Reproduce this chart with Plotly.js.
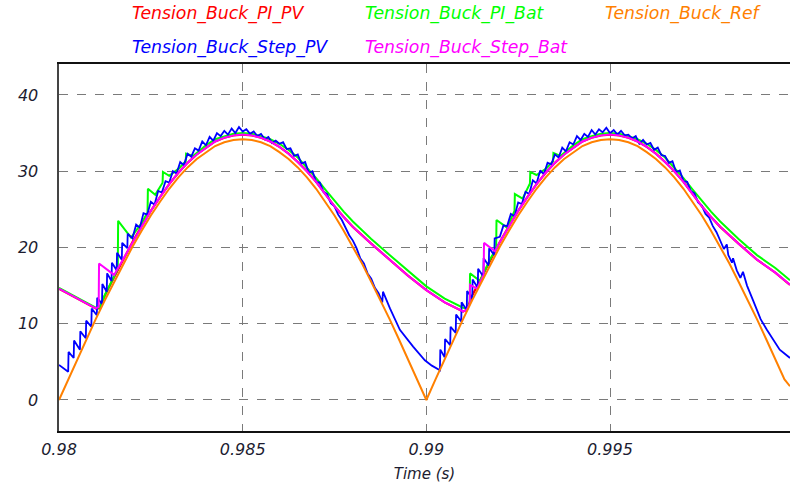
<!DOCTYPE html>
<html>
<head>
<meta charset="utf-8">
<script src="https://cdn.plot.ly/plotly-3.0.1.min.js"></script>
<style>html,body{margin:0;padding:0;background:#fff;}#chart{width:790px;height:485px;}</style>
</head>
<body>
<div id="chart"></div>
<script>
// ---------- data ----------
var seriesNames = ["Tension_Buck_PI_PV", "Tension_Buck_PI_Bat", "Tension_Buck_Ref", "Tension_Buck_Step_PV", "Tension_Buck_Step_Bat"];

var xTickVals = [0.98, 0.985, 0.99, 0.995];
var xTickText = ["0.98", "0.985", "0.99", "0.995"];
var yTickVals = [0, 10, 20, 30, 40];
var yTickText = ["0", "10", "20", "30", "40"];

// Reference voltage: sampled every 0.25 ms from 0.98 s, plus the last visible point
var refStart = 0.98, refStep = 0.00025;
var vRef = [0,2.7,5.4,8.0,10.6,13.1,15.5,17.9,20.1,22.2,24.2,26.0,27.7,29.2,30.5,31.6,32.5,33.3,33.8,34.1,
            34.2,34.1,33.8,33.3,32.5,31.6,30.5,29.2,27.7,26.0,24.2,22.2,20.1,17.9,15.5,13.1,10.6,8.0,5.4,2.7,
            0,2.7,5.4,8.0,10.6,13.1,15.5,17.9,20.1,22.2,24.2,26.0,27.7,29.2,30.5,31.6,32.5,33.3,33.8,34.1,
            34.2,34.1,33.8,33.3,32.5,31.6,30.5,29.2,27.7,26.0,24.2,22.2,20.1,17.9,15.5,13.1,10.6,8.0,5.4,2.7];
var refEndT = 0.9999, refEndV = 1.8;

var tRed = [0.98,0.981,0.9811,0.98125,0.9815,0.98175,0.982,0.98225,0.9825,0.98275,0.983,0.98325,0.9835,0.98375,0.984,0.98425,0.9845,0.98475,0.985,0.98525,0.9855,0.98575,0.986,0.98625,0.9865,0.98675,0.987,0.98725,0.9875,0.98775,0.988,0.9885,0.989,0.9895,0.99,0.9905,0.991,
            0.9911,0.99125,0.9915,0.99175,0.992,0.99225,0.9925,0.99275,0.993,0.99325,0.9935,0.99375,0.994,0.99425,0.9945,0.99475,0.995,0.99525,0.9955,0.99575,0.996,0.99625,0.9965,0.99675,0.997,0.99725,0.9975,0.99775,0.998,0.9985,0.999,0.9995,0.9999];
var vRed = [14.6,12.0,12.0,13.7,16.1,18.5,20.7,22.8,24.8,26.6,28.3,29.8,31.1,32.2,33.1,33.9,34.4,34.7,34.8,34.7,34.4,33.9,33.2,32.3,31.2,30.0,28.6,27.0,25.4,24.0,22.7,20.5,18.4,16.3,14.4,12.8,11.6,
            11.8,13.7,16.1,18.5,20.7,22.8,24.8,26.6,28.3,29.8,31.1,32.2,33.1,33.9,34.4,34.7,34.8,34.7,34.4,33.9,33.2,32.3,31.2,30.0,28.6,27.0,25.4,24.0,22.7,20.5,18.4,16.7,15.1];

var tMag = [0.98,0.981,0.98108,0.98109,0.9815,0.98175,0.982,0.98225,0.9825,0.98275,0.983,0.98325,0.9835,0.98375,0.984,0.98425,0.9845,0.98475,0.985,0.98525,0.9855,0.98575,0.986,0.98625,0.9865,0.98675,0.987,0.98725,0.9875,0.98775,0.988,0.9885,0.989,0.9895,0.99,0.9905,0.991,
            0.9911,0.99118,0.99119,0.99138,0.99156,0.99157,0.99187,0.992,0.99225,0.9925,0.99275,0.993,0.99325,0.9935,0.99375,0.994,0.99425,0.9945,0.99475,0.995,0.99525,0.9955,0.99575,0.996,0.99625,0.9965,0.99675,0.997,0.99725,0.9975,0.99775,0.998,0.9985,0.999,0.9995,0.9999];
var vMag = [14.6,12.0,12.2,17.9,16.4,18.5,20.7,22.8,24.8,26.6,28.3,29.8,31.1,32.2,33.1,33.9,34.4,34.7,34.8,34.7,34.4,33.9,33.2,32.3,31.2,30.0,28.6,27.0,25.4,24.0,22.7,20.5,18.4,16.3,14.4,12.8,11.6,
            11.8,12.6,15.1,14.6,16.4,20.6,19.5,20.7,22.8,24.8,26.6,28.3,29.8,31.1,32.2,33.1,33.9,34.4,34.7,34.8,34.7,34.4,33.9,33.2,32.3,31.2,30.0,28.6,27.0,25.4,24.0,22.7,20.5,18.4,16.7,15.1];

var tGrn = [0.98,0.981,0.9811,0.98125,0.9815,0.9816,0.98161,0.98196,0.98225,0.98241,0.98242,0.98262,0.98282,0.98283,0.983,0.98325,0.98345,0.98346,0.98365,0.984,0.98425,0.9845,0.98475,0.985,0.98525,0.9855,0.98575,0.986,0.98625,0.9865,0.98675,0.987,0.98725,0.9875,0.98775,0.988,0.9885,0.989,0.9895,0.99,0.9905,0.991,
            0.9911,0.99118,0.99119,0.99146,0.99175,0.9919,0.99191,0.9922,0.9924,0.99241,0.99262,0.99282,0.99283,0.993,0.99325,0.99345,0.99346,0.99365,0.994,0.99425,0.9945,0.99475,0.995,0.99525,0.9955,0.99575,0.996,0.99625,0.9965,0.99675,0.997,0.99725,0.9975,0.99775,0.998,0.9985,0.999,0.9995,0.9999];
var vGrn = [14.7,12.1,12.1,13.8,16.2,17.2,23.5,21.3,23.2,24.6,27.7,26.9,28.5,29.9,29.4,30.3,31.3,32.3,32.0,33.4,34.2,34.6,34.9,35.0,34.9,34.6,34.2,33.6,32.8,31.8,30.5,29.1,27.6,26.1,24.7,23.4,21.1,19.0,16.9,14.9,13.3,12.1,
            12.0,12.6,16.6,15.6,18.6,19.8,23.6,22.6,24.8,27.0,26.4,28.4,29.9,29.5,30.3,31.3,32.4,32.0,33.4,34.2,34.6,34.9,35.0,34.9,34.6,34.2,33.6,32.8,31.8,30.5,29.1,27.6,26.1,24.7,23.4,21.1,19.0,17.3,15.7];

var tBlue = [0.98,0.98025,0.98026,0.9804,0.98041,0.98057,0.98058,0.98073,0.98074,0.98088,0.98089,0.98103,0.98104,0.98117,0.98118,0.9813,0.98131,0.98143,0.98144,0.98157,0.98158,0.98171,0.98172,0.98186,0.98187,
  0.9820,0.9821,0.9822,0.9823,0.9824,0.9825,0.9826,0.9827,0.9828,0.9829,0.9830,0.9831,0.9832,0.9833,0.9834,0.9835,0.9836,0.9837,0.9838,0.9839,
  0.9840,0.9841,0.9842,0.9843,0.9844,0.9845,0.9846,0.9847,0.9848,0.9849,0.9850,0.9851,0.9852,0.9853,0.9854,0.9855,0.9856,0.9857,0.9858,0.9859,
  0.9860,0.9861,0.9862,0.9863,0.9864,0.9865,0.9866,0.9867,0.9868,0.9869,0.9870,0.9871,0.9872,0.9873,0.9874,0.9875,0.9876,0.9877,0.9878,0.9879,
  0.9880,0.9881,0.9882,0.9883,0.9884,0.9885,0.9886,0.9887,0.9888,0.98882,0.98901,0.98928,0.98964,0.98996,0.99015,0.99037,
  0.99038,0.9905,0.99051,0.99065,0.99066,0.9908,0.99081,0.99095,0.99096,0.9911,0.99111,0.99125,0.99126,0.9914,0.99141,0.99155,0.99156,0.9917,0.99171,0.99185,0.99186,
  0.9920,0.9921,0.9922,0.9923,0.9924,0.9925,0.9926,0.9927,0.9928,0.9929,0.9930,0.9931,0.9932,0.9933,0.9934,0.9935,0.9936,0.9937,0.9938,0.9939,
  0.9940,0.9941,0.9942,0.9943,0.9944,0.9945,0.9946,0.9947,0.9948,0.9949,0.9950,0.9951,0.9952,0.9953,0.9954,0.9955,0.9956,0.9957,0.9958,0.9959,
  0.9960,0.9961,0.9962,0.9963,0.9964,0.9965,0.9966,0.9967,0.9968,0.9969,0.9970,0.9971,0.9972,0.9973,0.9974,0.9975,0.9976,0.9977,0.9978,0.9979,
  0.9980,0.9981,0.99818,0.99822,0.99832,0.99835,0.99845,0.99855,0.99862,0.99873,0.9989,0.9991,0.99927,0.99945,0.99962,0.9999];
var vBlue = [4.6,3.7,6.3,5.5,7.8,6.6,9.0,8.1,10.4,9.6,12.0,11.1,13.4,12.6,15.2,14.2,16.6,15.6,18.0,17.0,19.3,18.4,20.6,19.9,21.8,
  21.2,23.0,22.6,24.5,24.3,26.0,25.6,27.4,27.2,28.7,28.5,30.0,29.7,31.2,30.8,32.3,31.9,33.0,32.7,33.9,
  33.4,34.5,34.0,35.0,34.6,35.3,34.8,35.6,35.0,35.8,35.2,35.5,34.9,35.2,34.6,34.9,34.2,34.5,33.7,34.0,
  33.6,33.8,32.9,33.0,32.0,32.2,31.0,31.2,29.8,30.0,28.6,28.5,27.3,27.0,25.8,25.4,24.3,23.6,22.6,21.6,
  20.9,19.9,18.6,17.9,16.6,15.9,14.7,14.0,12.8,14.2,12.0,9.2,7.0,5.2,4.5,3.9,
  6.6,5.6,8.0,7.2,9.6,8.8,11.2,10.3,12.8,11.8,14.3,13.3,15.8,14.7,17.2,16.2,18.6,17.6,19.9,19.0,21.2,
  21.4,22.9,22.8,24.4,24.1,25.9,25.7,27.3,27.0,28.8,28.4,30.1,29.6,31.1,30.9,32.2,31.8,33.1,32.6,33.8,
  33.5,34.6,34.1,34.9,34.5,35.4,34.8,35.5,35.1,35.7,35.0,35.4,34.8,35.3,34.7,34.8,34.3,34.6,33.6,34.1,
  33.5,33.7,32.8,33.1,32.1,32.0,31.1,31.3,29.9,30.1,28.7,28.6,27.4,27.1,25.9,25.5,24.4,23.9,22.8,22.0,
  21.0,19.8,20.4,19.0,18.0,18.6,17.0,16.0,16.8,15.0,13.0,10.6,9.2,7.8,6.6,5.5];

// ---------- build ----------
var tRef = [];
for (var i = 0; i < vRef.length; i++) tRef.push(+(refStart + i * refStep).toFixed(5));
tRef.push(refEndT); vRef = vRef.concat([refEndV]);

var colors = ["#ff0000", "#00ff00", "#ff8000", "#0000ff", "#ff00ff"];
function tr(x, y, c, w) {
  return {x: x, y: y, type: "scatter", mode: "lines", line: {color: c, width: w}, showlegend: false, hoverinfo: "skip"};
}
var data = [
  tr(tRed, vRed, colors[0], 2.2),
  tr(tGrn, vGrn, colors[1], 2),
  tr(tBlue, vBlue, colors[3], 1.8),
  tr(tMag, vMag, colors[4], 2),
  tr(tRef, vRef, colors[2], 2)
];

var FONT = "DejaVu Sans";
var legendPos = [[130, 14], [363, 14], [603, 14], [130, 47], [363, 47]];
var legendOrder = [0, 1, 2, 3, 4];
var plotL = 59, plotT = 64, plotW = 731, plotH = 367;
var annotations = legendOrder.map(function (k) {
  return {
    xref: "paper", yref: "paper",
    x: (legendPos[k][0] - plotL) / plotW,
    y: (plotT + plotH - legendPos[k][1]) / plotH,
    xanchor: "left", yanchor: "middle", showarrow: false,
    text: seriesNames[k],
    font: {family: FONT, size: 17.3, color: colors[k], style: "italic"}
  };
});

var layout = {
  width: 790, height: 485,
  margin: {l: plotL, r: 0, t: plotT, b: 485 - plotT - plotH, pad: 0},
  paper_bgcolor: "#ffffff", plot_bgcolor: "#ffffff",
  showlegend: false,
  xaxis: {
    range: [0.98, 0.9999], tickvals: xTickVals, ticktext: xTickText,
    showgrid: true, gridcolor: "#7a7a7a", griddash: "dash", gridwidth: 1,
    zeroline: false, showline: true, linecolor: "#111", linewidth: 2, mirror: true,
    ticks: "", ticklabelstandoff: 3,
    tickfont: {family: FONT, size: 16, color: "#1c1c30", style: "italic"},
    title: {text: "Time (s)", font: {family: FONT, size: 15, color: "#1c1c30", style: "italic"}, standoff: 10}
  },
  yaxis: {
    range: [-4.07, 44.06], tickvals: yTickVals, ticktext: yTickText,
    showgrid: true, gridcolor: "#7a7a7a", griddash: "dash", gridwidth: 1,
    zeroline: false, showline: true, linecolor: "#444", linewidth: 2.5, mirror: false,
    ticks: "", ticklabelstandoff: 15,
    tickfont: {family: FONT, size: 16, color: "#1c1c30", style: "italic"}
  },
  annotations: annotations
};

Plotly.newPlot("chart", data, layout, {displayModeBar: false, staticPlot: true});
</script>
</body>
</html>
